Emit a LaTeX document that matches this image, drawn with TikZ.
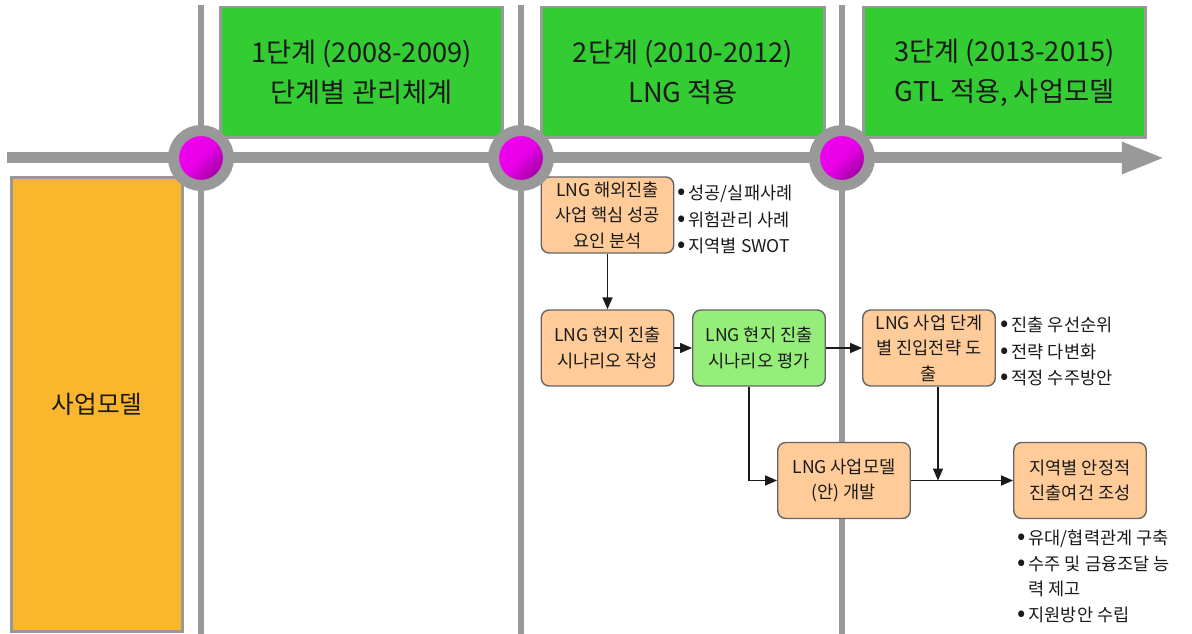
\documentclass[tikz,border=0pt]{standalone}
\usepackage{fontspec}
\setmainfont{Noto Sans CJK KR}
\usetikzlibrary{arrows.meta}
\definecolor{tlgray}{RGB}{153,153,153}
\definecolor{stagegreen}{RGB}{51,204,51}
\definecolor{evalgreen}{RGB}{150,238,122}
\definecolor{peach}{RGB}{255,204,153}
\definecolor{modelorange}{RGB}{250,182,44}
\definecolor{pinka}{RGB}{240,0,240}
\definecolor{pinkb}{RGB}{150,0,150}
\definecolor{ink}{RGB}{26,26,26}
\definecolor{boxline}{RGB}{100,100,100}
\newcommand{\dotmark}{{\fontsize{14}{14}\selectfont •}\,}

\begin{document}
\begin{tikzpicture}[x=0.02cm,y=-0.02cm,
    stage/.style={draw=tlgray,line width=1.7pt,fill=stagegreen,minimum width=5.66cm,
      minimum height=2.62cm,inner sep=0pt,align=center,text=ink,
      font=\fontsize{15.5}{22.8}\selectfont},
    taskbox/.style={draw=boxline,line width=0.8pt,fill=peach,rounded corners=4.5pt,
      minimum width=2.65cm,minimum height=1.52cm,inner sep=0pt,align=center,text=ink,
      font=\fontsize{10}{14.5}\selectfont},
    notes/.style={anchor=west,inner sep=0pt,align=left,text=ink,
      font=\fontsize{10}{15.1}\selectfont},
    milestone/.style={circle,draw=tlgray,line width=6.26pt,minimum size=1.1cm,inner sep=0pt,
      top color=pinka,bottom color=pinkb,middle color=pinka!90!pinkb,shading angle=45},
    divider/.style={draw=tlgray,line width=3.4pt},
    flow/.style={draw=ink,line width=0.8pt,-{Triangle[length=6.8pt,width=5.7pt]}}]
  \useasboundingbox (0,0) rectangle (1192,634);

  % time axis
  \foreach \x in {201,521,842}
    \draw[divider] (\x,5) -- (\x,640);
  \coordinate (tl start) at (7,158);
  \coordinate (tl end) at (1165,158);
  \draw[draw=tlgray,line width=6.26pt,-{Triangle[length=24.5pt,width=16.5pt]}] (tl start) -- (tl end);

  % stages
  \node[stage] (stage1) at (361.5,72.5) {1단계 (2008-2009)\\단계별 관리체계};
  \node[stage] (stage2) at (683,72.5) {2단계 (2010-2012)\\LNG 적용};
  \node[stage] (stage3) at (1004.5,72.5) {3단계 (2013-2015)\\GTL 적용, 사업모델};

  \node[draw=tlgray,line width=1.7pt,fill=modelorange,minimum width=3.44cm,minimum height=9.1cm,
    inner sep=0pt,text=ink,font=\fontsize{14}{16}\selectfont] (model) at (97,404.5) {사업모델};

  % tasks
  \node[taskbox] (analysis) at (607.5,215) {LNG 해외진출\\사업 핵심 성공\\요인 분석};
  \node[taskbox] (scenario) at (607.5,348) {LNG 현지 진출\\시나리오 작성};
  \node[taskbox,fill=evalgreen] (evaluate) at (759,348) {LNG 현지 진출\\시나리오 평가};
  \node[taskbox] (strategy) at (929,348) {LNG 사업 단계\\별 진입전략 도\\출};
  \node[taskbox] (develop) at (844,480.5) {LNG 사업모델\\(안) 개발};
  \node[taskbox] (conditions) at (1080,480.5) {지역별 안정적\\진출여건 조성};

  \node[notes] (notes1) at (677,219.5) {\dotmark 성공/실패사례\\\dotmark 위험관리 사례\\\dotmark 지역별 SWOT};
  \node[notes] (notes2) at (1000,351.5) {\dotmark 진출 우선순위\\\dotmark 전략 다변화\\\dotmark 적정 수주방안};
  \node[notes,font=\fontsize{10}{14.6}\selectfont] (notes3) at (1017,576.5)
    {\dotmark 유대/협력관계 구축\\\dotmark 수주 및 금융조달 능\\\phantom{\dotmark}력 제고\\\dotmark 지원방안 수립};

  \draw[flow] (analysis) -- (scenario);
  \draw[flow] (scenario) -- (evaluate);
  \draw[flow] (evaluate) -- (strategy);
  \draw[flow] ([xshift=-0.2cm]evaluate.south) |- (develop.west);
  \draw[flow] (develop) -- (conditions);
  \draw[flow] ([xshift=0.18cm]strategy.south) -- ([xshift=0.18cm]strategy.south |- develop.east);

  % milestones
  \foreach \x [count=\i] in {201,521,842}
    \node[milestone] (m\i) at (\x,158) {};
\end{tikzpicture}
\end{document}
